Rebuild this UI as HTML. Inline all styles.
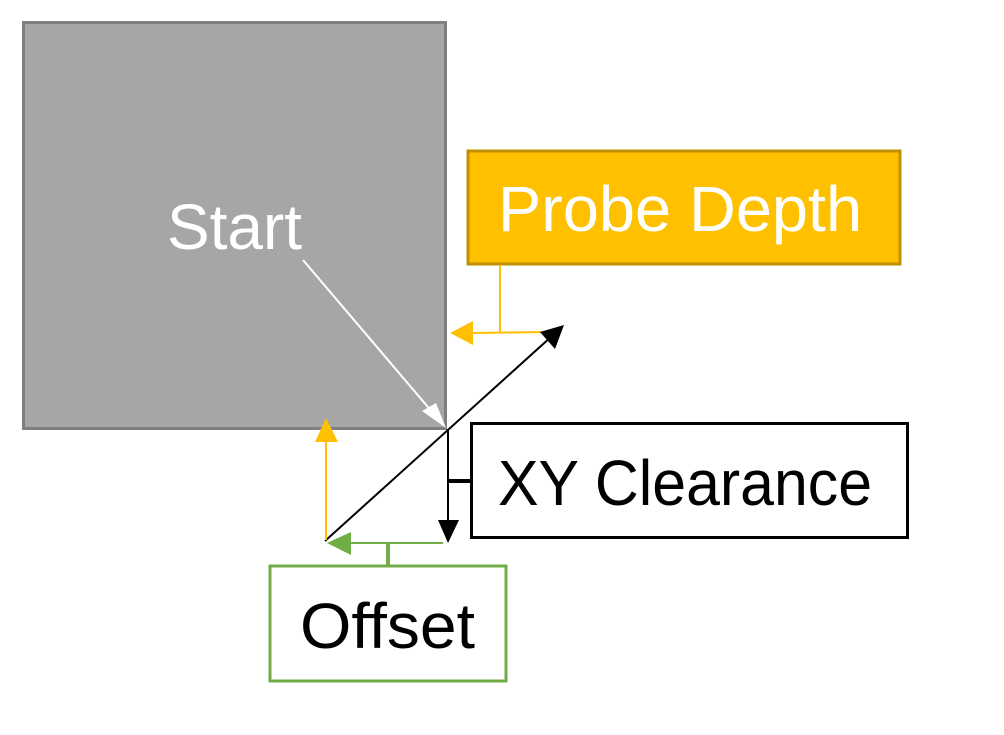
<!DOCTYPE html>
<html><head><style>body{margin:0;background:#fff}svg{display:block}</style></head>
<body>
<svg width="1004" height="735" xmlns="http://www.w3.org/2000/svg" font-family="Liberation Sans, sans-serif">
<rect x="23.5" y="22.5" width="422" height="406" fill="#a6a6a6" stroke="#7f7f7f" stroke-width="3"/>
<rect x="468" y="151" width="432" height="113" fill="#ffc000" stroke="#bf9000" stroke-width="3"/>
<rect x="471.5" y="423.5" width="436" height="114" fill="#fff" stroke="#000" stroke-width="3"/>
<rect x="270" y="566" width="236" height="115" fill="#fff" stroke="#70ad47" stroke-width="3"/>
<text x="167" y="249" font-size="64" fill="#fff" textLength="135" lengthAdjust="spacingAndGlyphs">Start</text>
<text x="498" y="231" font-size="64" fill="#fff" textLength="364" lengthAdjust="spacingAndGlyphs">Probe Depth</text>
<text x="498" y="505" font-size="64" fill="#000" textLength="374" lengthAdjust="spacingAndGlyphs">XY Clearance</text>
<text x="300" y="648" font-size="64" fill="#000" textLength="175" lengthAdjust="spacingAndGlyphs">Offset</text>
<!-- white arrow -->
<line x1="303" y1="260" x2="433" y2="413" stroke="#fff" stroke-width="2"/>
<polygon points="446,428 422,411 436,403" fill="#fff"/>
<!-- orange probe -->
<line x1="500" y1="265" x2="500" y2="333" stroke="#ffc000" stroke-width="2"/>
<line x1="470" y1="333" x2="550" y2="332" stroke="#ffc000" stroke-width="2"/>
<polygon points="450,333 473,321 473,345" fill="#ffc000"/>
<!-- black diagonal -->
<line x1="325" y1="541" x2="552" y2="336" stroke="#000" stroke-width="2"/>
<polygon points="564,325 540,332 555,349" fill="#000"/>
<!-- black vertical -->
<line x1="448" y1="429" x2="448" y2="525" stroke="#000" stroke-width="2"/>
<polygon points="448,543 438,520 459,520" fill="#000"/>
<line x1="448" y1="481" x2="471" y2="481" stroke="#000" stroke-width="4"/>
<!-- orange vertical -->
<line x1="326" y1="540" x2="326" y2="440" stroke="#ffc000" stroke-width="2"/>
<polygon points="326,418 315,442 338,442" fill="#ffc000"/>
<!-- green -->
<line x1="443" y1="543" x2="348" y2="543" stroke="#70ad47" stroke-width="2"/>
<polygon points="327,543 351,532 351,555" fill="#70ad47"/>
<line x1="388" y1="543" x2="388" y2="566" stroke="#70ad47" stroke-width="4"/>
</svg>
</body></html>
